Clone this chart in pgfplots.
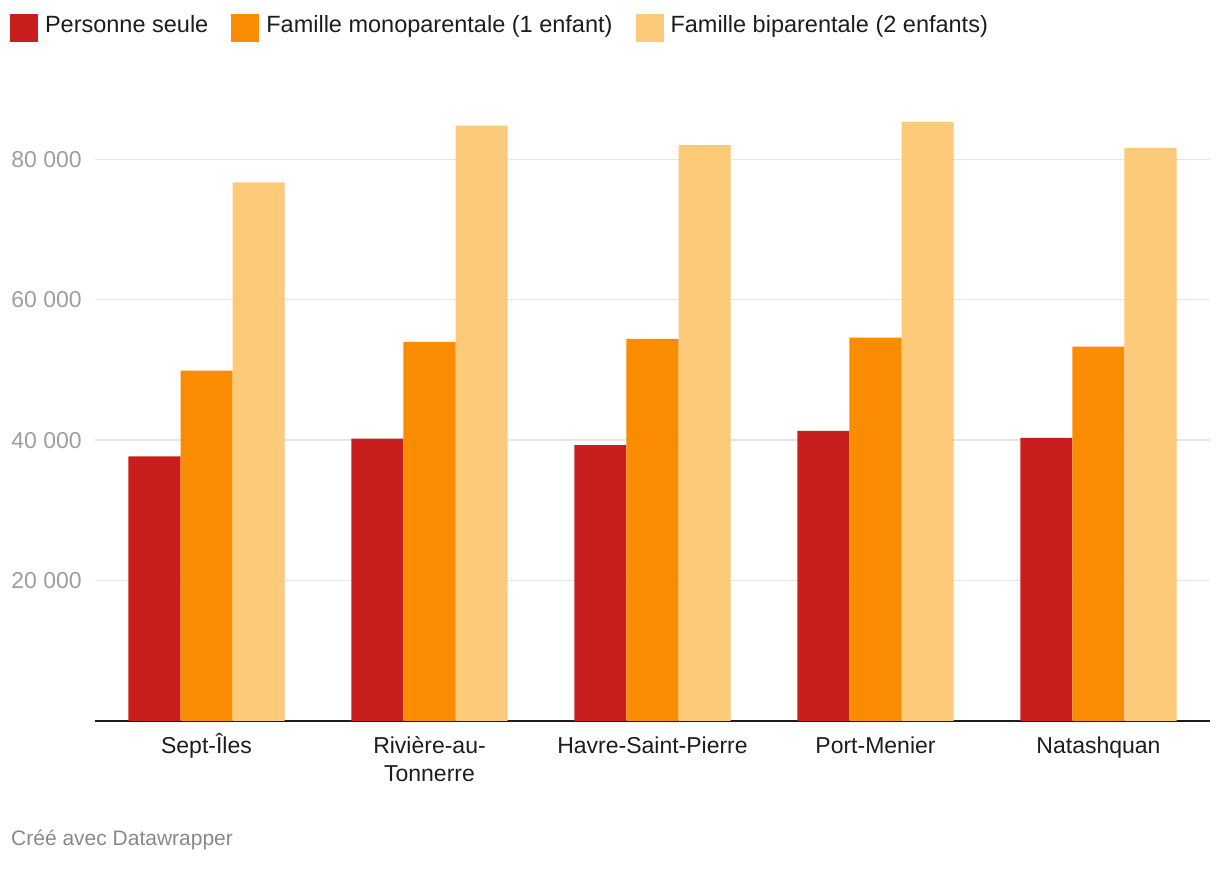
\documentclass[border=0pt]{standalone}
\usepackage{pgfplots}
\pgfplotsset{compat=1.18}
\usepackage{fontspec}
\setmainfont{Liberation Sans}

\definecolor{cRed}{HTML}{C81E1E}
\definecolor{cOrange}{HTML}{F98C00}
\definecolor{cLight}{HTML}{FCCA79}
\definecolor{cGrid}{HTML}{E5E5E5}
\definecolor{cTick}{HTML}{9E9E9E}
\definecolor{cText}{HTML}{1D1D1D}
\definecolor{cNote}{HTML}{888888}

\begin{document}
\begin{tikzpicture}[x=1bp,y=1bp]
\path[use as bounding box] (0,0) rectangle (1220,872);
\begin{axis}[
    at={(95bp,151bp)}, anchor=south west,
    scale only axis,
    width=1115bp, height=632bp,
    ymin=0, ymax=90000,
    xmin=-0.5, xmax=4.5,
    ybar=0pt, bar width=52bp,
    axis x line*=bottom, axis y line*=left,
    x axis line style={draw=cText, line width=2bp},
    y axis line style={draw=none},
    major tick length=0pt,
    scaled y ticks=false,
    xtick={0,1,2,3,4},
    xticklabels={Sept-Îles, {\begin{tabular}[t]{@{}c@{}}Rivière-au-\\Tonnerre\end{tabular}}, Havre-Saint-Pierre, Port-Menier, Natashquan},
    xticklabel style={anchor=base, yshift=-33bp, inner sep=0pt,
        text=cText, font=\fontsize{23bp}{28bp}\selectfont},
    ytick={20000,40000,60000,80000},
    yticklabels={20 000, 40 000, 60 000, 80 000},
    yticklabel style={anchor=east, xshift=-13bp, inner sep=0pt,
        text=cTick, font=\fontsize{23bp}{28bp}\selectfont},
    ymajorgrids, grid style={draw=cGrid, line width=1.3bp},
    legend columns=3,
    legend image code/.code={\fill[#1] (0bp,-17bp) rectangle (28bp,11bp);},
    legend style={at={(-0.0762,1.1187)}, anchor=north west, draw=none, fill=none,
        inner sep=0pt, outer sep=0pt,
        nodes={inner sep=0pt, text=cText, font=\fontsize{23.5bp}{28bp}\selectfont},
        /tikz/every odd column/.append style={column sep=7bp},
        /tikz/every even column/.append style={column sep=23bp}},
    legend cell align=left,
]
\addplot[fill=cRed, draw=none] coordinates {(0,37700) (1,40200) (2,39300) (3,41300) (4,40300)};
\addplot[fill=cOrange, draw=none] coordinates {(0,49900) (1,54000) (2,54400) (3,54600) (4,53300)};
\addplot[fill=cLight, draw=none] coordinates {(0,76700) (1,84800) (2,82000) (3,85300) (4,81600)};
\legend{Personne seule, Famille monoparentale (1 enfant), Famille biparentale (2 enfants)}
\end{axis}
\node[anchor=base west, inner sep=0pt, text=cNote, font=\fontsize{21bp}{25bp}\selectfont] at (11,26) {Créé avec Datawrapper};
\end{tikzpicture}
\end{document}
